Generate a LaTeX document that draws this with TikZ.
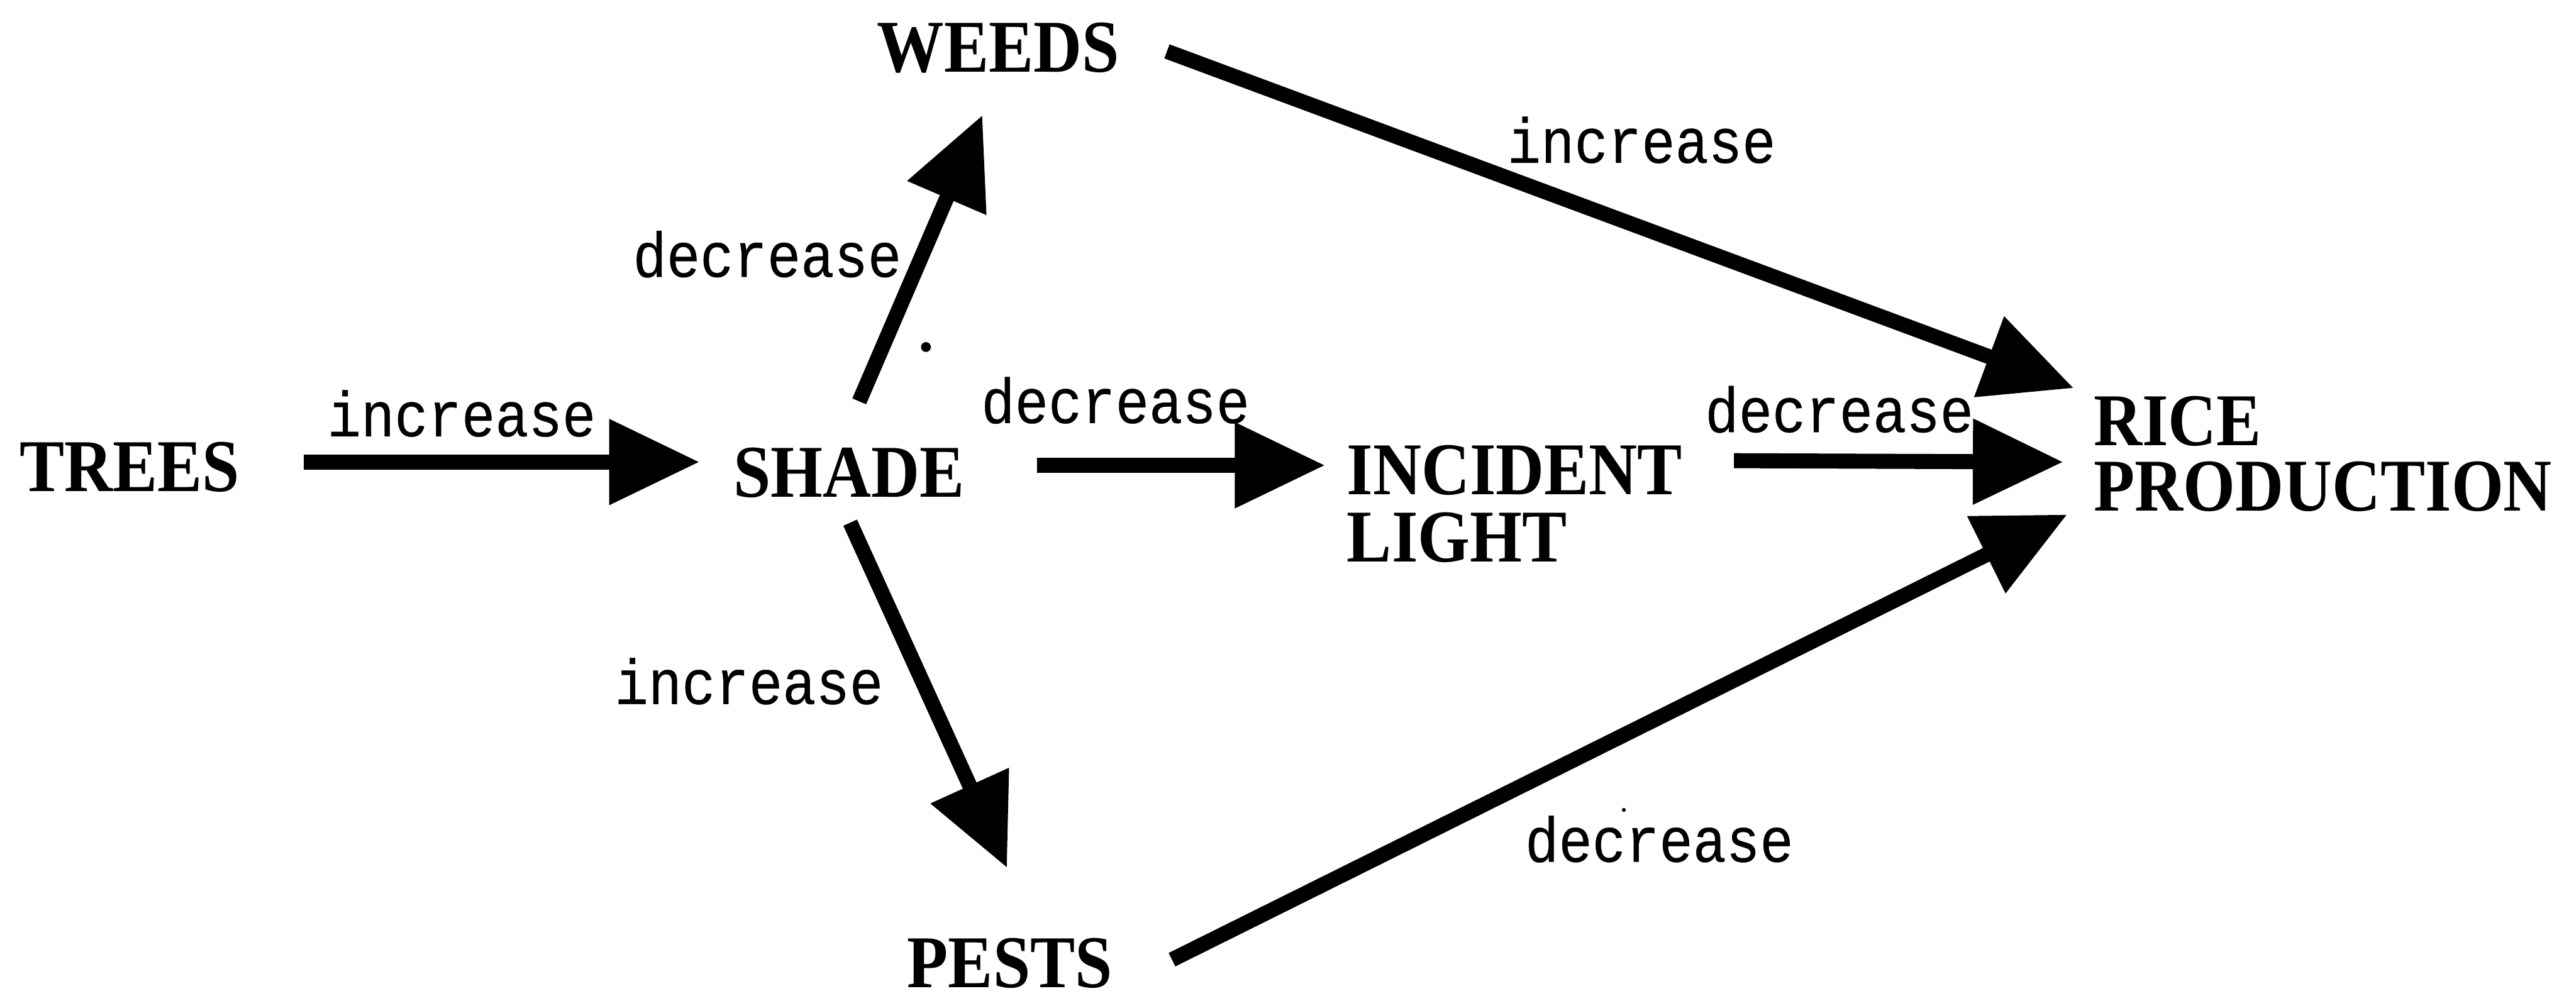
\documentclass[tikz,border=0pt]{standalone}
\usepackage{fontspec}
\usetikzlibrary{arrows.meta}
\newfontfamily\factorfont{Liberation Serif}[FakeStretch=0.9]
\newfontfamily\effectfont{Liberation Mono}[FakeStretch=0.88,FakeBold=0.4]
\begin{document}
\begin{tikzpicture}[
  factor/.style={font=\factorfont\bfseries\fontsize{12.9}{11.6}\selectfont, inner sep=0pt, align=left},
  effect/.style={font=\effectfont\fontsize{11}{13}\selectfont, inner sep=0pt},
  link/.style={line width=2.6pt, -{Triangle[length=0.55cm,width=0.5cm]}},
]
\useasboundingbox (0,0) rectangle (15.68,6.063);

% factors
\node[factor] (trees) at (0.788,3.22) {TREES};
\node[factor] (shade) at (5.168,3.184) {SHADE};
\node[factor] (weeds) at (6.076,5.77) {WEEDS};
\node[factor] (pests) at (6.147,0.20) {PESTS};
\node[factor] (light) at (9.22,2.995) {INCIDENT\\LIGHT};
\node[factor, font=\factorfont\bfseries\fontsize{12.9}{11.4}\selectfont] (rice) at (14.14,3.30) {RICE\\PRODUCTION};

% causal links
\draw[link] ([shift={(0.385,0.03)}]trees.east) -- ([shift={(-0.20,0.066)}]shade.west);
\draw[link] ([shift={(0.434,0.046)}]shade.east) -- ([shift={(-0.127,0.235)}]light.west);
\draw[link] ([shift={(0.307,-0.10)}]light.north east) -- ([shift={(-0.18,-0.05)}]rice.west);
\draw[link] ([shift={(0.062,0.276)}]shade.north) -- ([shift={(-0.096,-0.247)}]weeds.south);
\draw[link] ([shift={(0.007,-0.144)}]shade.south) -- ([shift={(-0.017,0.42)}]pests.north);
\draw[link] ([shift={(0.283,-0.02)}]weeds.east) -- ([shift={(-0.116,0.04)}]rice.north west);
\draw[link] ([shift={(0.356,0.02)}]pests.east) -- ([shift={(-0.156,-0.01)}]rice.south west);

% effect labels
\node[effect] (l1) at (2.81,3.545) {increase};
\node[effect] (l2) at (4.67,4.515) {decrease};
\node[effect] (l3) at (6.79,3.625) {decrease};
\node[effect] (l4) at (11.196,3.57) {decrease};
\node[effect] (l5) at (4.559,1.915) {increase};
\node[effect] (l6) at (9.992,5.21) {increase};
\node[effect] (l7) at (10.10,0.954) {decrease};

% specks
\fill (5.636,3.95) circle (0.03);
\fill (9.884,1.132) circle (0.012);
\end{tikzpicture}
\end{document}
